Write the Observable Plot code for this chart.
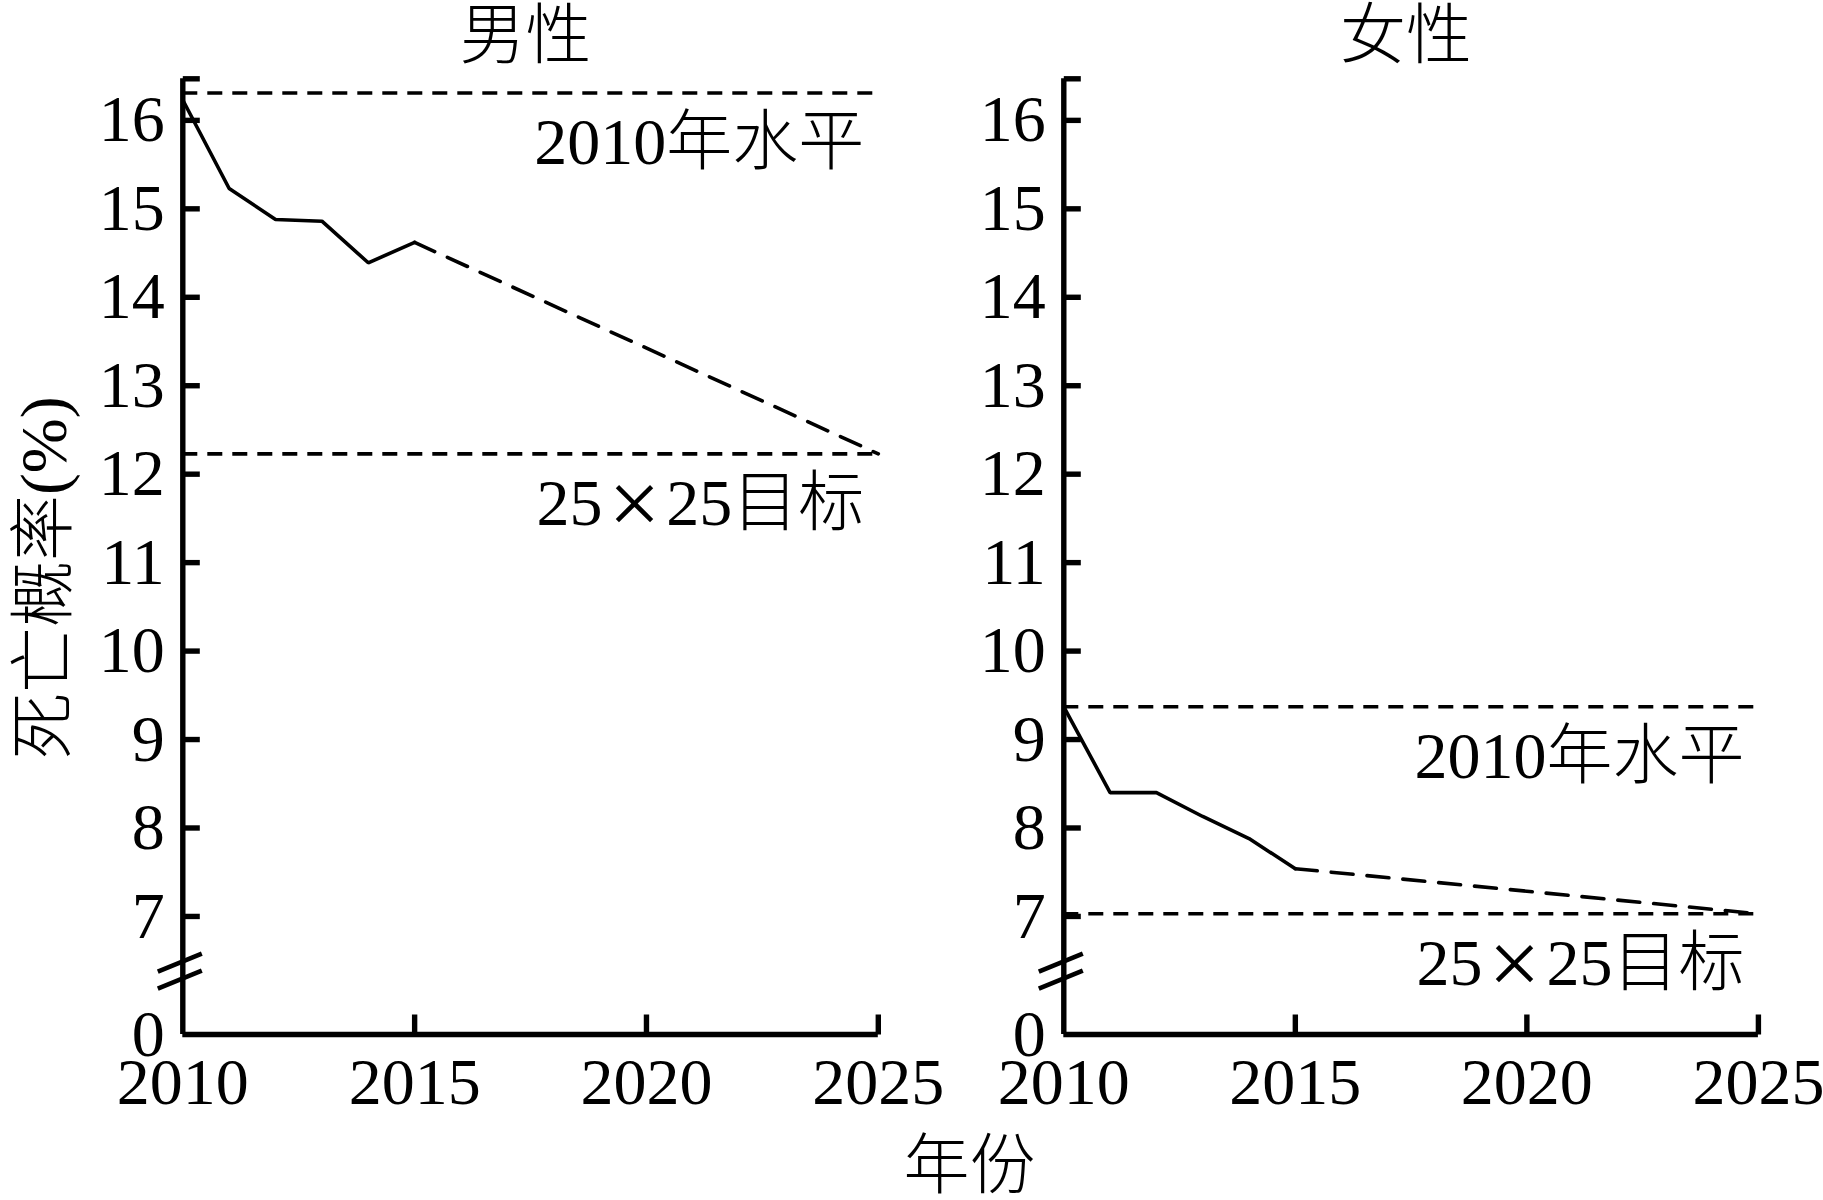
<!DOCTYPE html>
<html>
<head>
<meta charset="utf-8">
<script src="https://cdn.jsdelivr.net/npm/d3@7"></script>
<script src="https://cdn.jsdelivr.net/npm/@observablehq/plot@0.6"></script>
<style>
  html, body { margin: 0; padding: 0; background: #fff; }
  #wrap { position: relative; width: 1823px; height: 1200px; background: #fff; }
  #wrap svg { position: absolute; left: 0; top: 0; overflow: visible; }
</style>
</head>
<body>
<div id="wrap"></div>
<script>
// ---- data ----
const years = [2010, 2011, 2012, 2013, 2014, 2015];
const maleRate = [16.23, 15.23, 14.88, 14.86, 14.39, 14.62];
const femaleRate = [9.37, 8.40, 8.40, 8.13, 7.88, 7.54];
const projYears = [2015, 2025];
const maleProj = [14.62, 12.23];
const femaleProj = [7.54, 7.03];
const refLabels = ["2010年水平", "25×25目标"];
const maleRefs = [16.31, 12.23];
const femaleRefs = [9.37, 7.03];
const panelTitles = ["男性", "女性"];
const yTickValues = [0, 7, 8, 9, 10, 11, 12, 13, 14, 15, 16];
const xTickValues = [2010, 2015, 2020, 2025];
const yAxisLabel = "死亡概率(%)";
const xAxisLabel = "年份";
const axisBreak = 6.4;   // where the broken y axis is cut
const yTop = 16.47;      // top end of the y axis
const breakSqueeze = 0.1148; // how much the 0..break stretch is compressed

// broken-axis mapping: values below the break are squeezed together
const fy = v => v >= axisBreak ? v : axisBreak - (axisBreak - v) * breakSqueeze;

// ---- layout ----
const W = 1823, H = 1200;
const FONT = '"Liberation Serif", "Noto Sans CJK SC", serif';
const FS = 66;
const CJK_WEIGHT = 300;
const yPix = [1034, 78.3];
const ink = "#000";
const AXW = 5.4, LW = 3.6, DW = 3.6;

const segment = {draw(ctx, l) { ctx.moveTo(0, 0); ctx.lineTo(0, -l); }};
const breakSymbol = {
  draw(ctx) {
    ctx.moveTo(-25, 2); ctx.lineTo(19, -16);
    ctx.moveTo(-25, 19); ctx.lineTo(19, 1);
  }
};

function panel({title, rates, proj, refs, x0, x1, extra = []}) {
  const observed = years.map((y, i) => ({year: y, value: rates[i]}));
  const projected = projYears.map((y, i) => ({year: y, value: proj[i]}));
  const refData = refLabels.map((l, i) => ({label: l, value: refs[i]}));
  return Plot.plot({
    width: W, height: H,
    marginLeft: x0, marginRight: W - x1, marginTop: yPix[1], marginBottom: H - yPix[0],
    x: {domain: [2010, 2025], range: [x0, x1], axis: null},
    y: {domain: [fy(0), yTop], range: yPix, axis: null},
    style: {fontFamily: FONT, fontSize: FS + "px", color: ink, background: "transparent", overflow: "visible"},
    marks: [
      Plot.ruleY(refData, {y: d => fy(d.value), x1: 2010, x2: 2025, stroke: ink, strokeWidth: DW, strokeDasharray: "15,10"}),
      Plot.text(refData, {x: 2025, y: d => fy(d.value), text: "label", textAnchor: "end", lineAnchor: "middle",
        dx: -14, dy: 50, fontSize: FS, fontWeight: CJK_WEIGHT, fill: ink}),
      Plot.line(observed, {x: "year", y: d => fy(d.value), stroke: ink, strokeWidth: LW, strokeLinejoin: "miter"}),
      Plot.line(projected, {x: "year", y: d => fy(d.value), stroke: ink, strokeWidth: DW, strokeDasharray: "22,14"}),
      // axis lines
      Plot.ruleX([2010], {y1: fy(0), y2: yTop, stroke: ink, strokeWidth: AXW}),
      Plot.ruleY([fy(0)], {x1: 2010, x2: 2025, stroke: ink, strokeWidth: AXW}),
      // inward ticks
      Plot.vector([...yTickValues.slice(1), yTop], {x: 2010, y: d => fy(d), length: 17, rotate: 90, anchor: "start",
        shape: segment, stroke: ink, strokeWidth: AXW, strokeLinecap: "butt"}),
      Plot.vector(xTickValues.slice(1), {x: d => d, y: fy(0), length: 20, rotate: 0, anchor: "start",
        shape: segment, stroke: ink, strokeWidth: AXW, strokeLinecap: "butt"}),
      // tick labels
      Plot.text(yTickValues, {x: 2010, y: d => fy(d), text: d => String(d), textAnchor: "end", lineAnchor: "middle",
        dx: -18, fontSize: FS, fill: ink}),
      Plot.text(xTickValues, {x: d => d, y: fy(0), text: d => String(d), textAnchor: "middle", lineAnchor: "top",
        dy: 23, fontSize: FS, fill: ink}),
      // axis break mark
      Plot.dot([axisBreak], {x: 2010, y: d => fy(d), symbol: breakSymbol, fill: "none", stroke: ink, strokeWidth: 4.6, strokeLinecap: "butt"}),
      // panel title
      Plot.text([title], {frameAnchor: "top", text: d => d, textAnchor: "middle", lineAnchor: "middle", dy: -42, dx: -5,
        fontSize: FS, fontWeight: CJK_WEIGHT, fill: ink}),
      ...extra
    ]
  });
}

const left = panel({
  title: panelTitles[0], rates: maleRate, proj: maleProj, refs: maleRefs, x0: 182.3, x1: 877.8,
  extra: [
    Plot.text([yAxisLabel], {frameAnchor: "left", text: d => d, rotate: -90, textAnchor: "middle", lineAnchor: "middle",
      dx: -138, dy: 21, fontSize: FS, fontWeight: CJK_WEIGHT, fill: ink})
  ]
});
const right = panel({
  title: panelTitles[1], rates: femaleRate, proj: femaleProj, refs: femaleRefs, x0: 1063.3, x1: 1757.9,
  extra: [
    Plot.text([xAxisLabel], {frameAnchor: "bottom-left", text: d => d, textAnchor: "middle", lineAnchor: "middle",
      dx: 969 - 1063.3, dy: 132, fontSize: FS, fontWeight: CJK_WEIGHT, fill: ink})
  ]
});
const wrap = document.getElementById("wrap");
wrap.appendChild(left);
wrap.appendChild(right);

// the reference sets the multiplication sign as a wide, full-width glyph
wrap.querySelectorAll("text").forEach(t => {
  const s = t.textContent;
  const k = s.indexOf("×");
  if (k < 0 || t.children.length) return;
  t.textContent = "";
  const ns = "http://www.w3.org/2000/svg";
  const parts = [[s.slice(0, k), null], ["×", "x"], [s.slice(k + 1), "after"]];
  for (const [str, role] of parts) {
    const sp = document.createElementNS(ns, "tspan");
    sp.textContent = str;
    if (role === "x") { sp.setAttribute("font-size", "92"); sp.setAttribute("dx", "6"); sp.setAttribute("dy", "9"); }
    if (role === "after") { sp.setAttribute("dx", "6"); sp.setAttribute("dy", "-9"); }
    t.appendChild(sp);
  }
});
</script>
</body>
</html>
